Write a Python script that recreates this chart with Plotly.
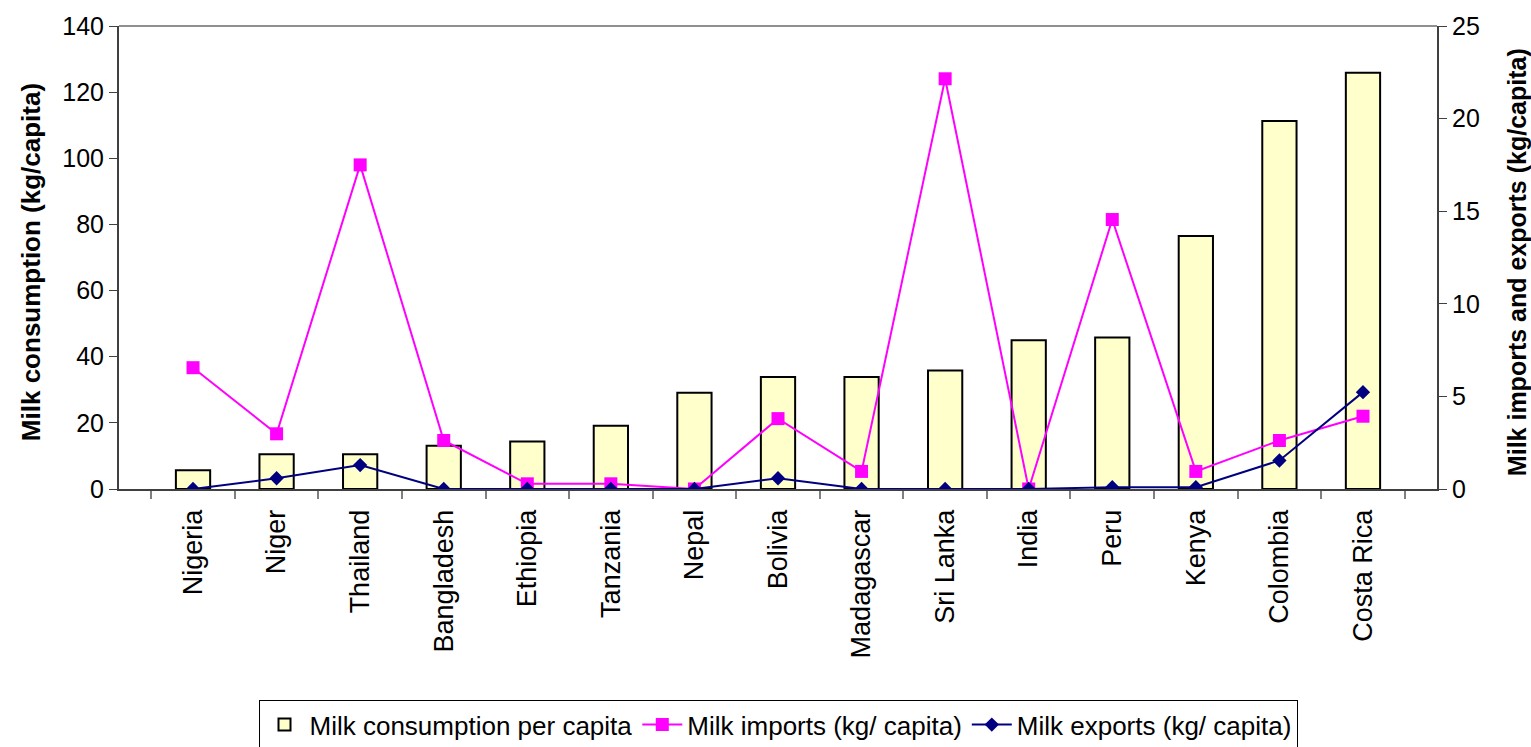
import plotly.graph_objects as go

countries = ["Nigeria", "Niger", "Thailand", "Bangladesh", "Ethiopia", "Tanzania",
             "Nepal", "Bolivia", "Madagascar", "Sri Lanka", "India", "Peru",
             "Kenya", "Colombia", "Costa Rica"]
consumption = [5.7, 10.5, 10.5, 13.1, 14.4, 19.1, 29.1, 33.9, 33.9, 35.8,
               45.0, 45.8, 76.5, 111.3, 125.9]
imports = [6.55, 2.98, 17.5, 2.62, 0.28, 0.28, 0.0, 3.8, 0.95, 22.15,
           0.0, 14.55, 0.95, 2.62, 3.93]
exports = [0.0, 0.58, 1.29, 0.0, 0.0, 0.0, 0.0, 0.58, 0.0, 0.0,
           0.0, 0.1, 0.1, 1.54, 5.23]

FONT = "Liberation Sans, Arial, sans-serif"

fig = go.Figure()
fig.add_trace(go.Bar(
    x=countries, y=consumption, name="Milk consumption per capita",
    marker=dict(color="#FFFFCC", line=dict(color="black", width=2)),
    width=0.41,
))
fig.add_trace(go.Scatter(
    x=countries, y=imports, name="Milk imports (kg/ capita)", yaxis="y2",
    mode="lines+markers",
    line=dict(color="#FF00FF", width=2),
    marker=dict(symbol="square", size=13, color="#FF00FF"),
))
fig.add_trace(go.Scatter(
    x=countries, y=exports, name="Milk exports (kg/ capita)", yaxis="y2",
    mode="lines+markers",
    line=dict(color="#000080", width=2),
    marker=dict(symbol="diamond", size=11, color="#000080"),
))

fig.update_layout(
    width=1531, height=747,
    margin=dict(l=119, r=94, t=26, b=258, autoexpand=False),
    paper_bgcolor="white", plot_bgcolor="white",
    font=dict(family=FONT, size=25, color="black"),
    showlegend=True,
    legend=dict(
        orientation="h", x=0.5, xanchor="center", y=-0.456, yanchor="top",
        bordercolor="black", borderwidth=1, font=dict(size=26),
        itemwidth=40, tracegroupgap=0,
    ),
    xaxis=dict(
        type="category", tickangle=-90, showgrid=False, automargin=False,
        showline=True, linecolor="#404040", linewidth=2,
        ticks="outside", tickson="boundaries", ticklen=8, tickcolor="#808080",
        tickwidth=2, tickfont=dict(size=27), ticklabelstandoff=8,
    ),
    yaxis=dict(
        range=[0, 140], dtick=20, showgrid=False, zeroline=False, automargin=False,
        showline=True, linecolor="#404040", linewidth=2,
        ticks="outside", ticklen=8, tickcolor="#404040", tickwidth=1,
        tickfont=dict(size=25),
    ),
    yaxis2=dict(
        range=[0, 25], dtick=5, overlaying="y", side="right", automargin=False,
        showgrid=False, zeroline=False,
        showline=True, linecolor="#404040", linewidth=2,
        ticks="outside", ticklen=8, tickcolor="#404040", tickwidth=1,
        tickfont=dict(size=25),
    ),
    shapes=[dict(type="line", xref="paper", yref="paper", x0=0, x1=1, y0=1, y1=1,
                 line=dict(color="#909090", width=2))],
    annotations=[
        dict(text="<b>Milk consumption (kg/capita)</b>", textangle=-90,
             xref="paper", yref="paper", x=0, y=0.49, xanchor="center", yanchor="middle",
             xshift=-88, showarrow=False, font=dict(size=26)),
        dict(text="<b>Milk imports and exports (kg/capita)</b>", textangle=-90,
             xref="paper", yref="paper", x=1, y=0.49, xanchor="center", yanchor="middle",
             xshift=80, showarrow=False, font=dict(size=25)),
    ],
)

fig.write_html("out.html")
